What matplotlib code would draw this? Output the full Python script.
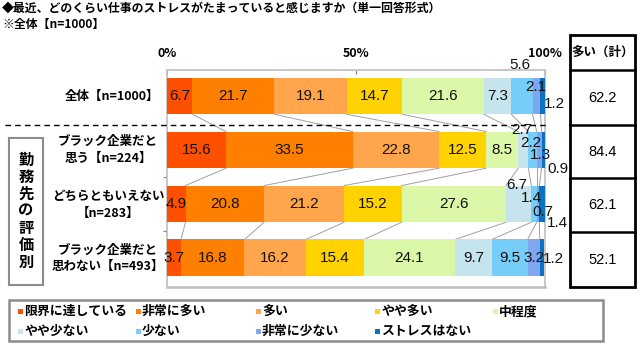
import matplotlib
matplotlib.use('Agg')
import matplotlib.pyplot as plt
from matplotlib.patches import Rectangle
from matplotlib.lines import Line2D
import numpy as np

JP = ['Noto Sans CJK JP', 'DejaVu Sans']
NUM = ['Liberation Sans Narrow', 'Liberation Sans', 'DejaVu Sans']
plt.rcParams['font.family'] = JP

# ---------------- data ----------------
title = '◆最近、どのくらい仕事のストレスがたまっていると感じますか（単一回答形式）'
subtitle = '※全体【n=1000】'
categories = ['全体【n=1000】',
              'ブラック企業だと\n思う【n=224】',
              'どちらともいえない\n【n=283】',
              'ブラック企業だと\n思わない【n=493】']
series_names = ['限界に達している', '非常に多い', '多い', 'やや多い', '中程度',
                'やや少ない', '少ない', '非常に少ない', 'ストレスはない']
v_all      = [6.7, 21.7, 19.1, 14.7, 21.6, 7.3, 5.6, 2.1, 1.2]
v_black    = [15.6, 33.5, 22.8, 12.5, 8.5, 2.7, 2.2, 1.3, 0.9]
v_neutral  = [4.9, 20.8, 21.2, 15.2, 27.6, 6.7, 1.4, 0.7, 1.4]
v_notblack = [3.7, 16.8, 16.2, 15.4, 24.1, 9.7, 9.5, 3.2, 1.2]
total_header = '多い（計）'
total_many = [62.2, 84.4, 62.1, 52.1]
group_label = '勤務先の評価別'
x_ticks = [0, 50, 100]
x_tick_labels = ['0%', '50%', '100%']

colors = ['#FF5000', '#FF8000', '#FFA64D', '#FFD200', '#DAF8A8',
          '#C6E4EE', '#76CDF8', '#80A6F2', '#0A72C2']

# label offsets (dx in %, dy in rows) for small segments: (row, seg)
label_offsets = {
    (0, 6): (-0.5, -0.57), (0, 7): (-0.1, -0.17), (0, 8): (3.2, 0.15),
    (1, 5): (-0.5, -0.37), (1, 6): (-0.4, -0.13), (1, 7): (0.4, 0.09), (1, 8): (3.9, 0.35),
    (2, 5): (-0.5, -0.35), (2, 6): (-0.8, -0.11), (2, 7): (1.3, 0.15), (2, 8): (4.2, 0.35),
    (3, 8): (2.9, 0.02),
}

rows = [v_all, v_black, v_neutral, v_notblack]

W, H = 640, 356
fig = plt.figure(figsize=(W / 100, H / 100), dpi=100)


def fx(px):
    return px / W


def fy(py):
    return 1 - py / H


# ---------------- main axes ----------------
ax = fig.add_axes([fx(167), fy(287), (378) / W, (287 - 70) / H])
ax.set_xlim(0, 100)
ax.set_ylim(3.54, -0.48)
bh = 0.68

for i, vals in enumerate(rows):
    left = 0.0
    for k, v in enumerate(vals):
        ax.barh(i, v, left=left, height=bh, color=colors[k], edgecolor='none', zorder=3)
        cx = left + v / 2
        dx, dy = label_offsets.get((i, k), (0, 0))
        ax.text(cx + dx, i + dy, f'{v:.1f}', ha='center', va='center',
                fontsize=11, family=NUM, color='#111111', zorder=5, clip_on=False)
        left += v

# connector lines
cums = [np.cumsum(r) for r in rows]
for i in range(len(rows) - 1):
    for k in range(len(series_names) - 1):
        ax.plot([cums[i][k], cums[i + 1][k]], [i + bh / 2, i + 1 - bh / 2],
                color='#A0A0A0', lw=0.7, zorder=2)

for s in ax.spines.values():
    s.set_color('#BFBFBF')
    s.set_linewidth(1.2)
ax.spines['bottom'].set_linewidth(1.8)
ax.xaxis.tick_top()
ax.set_xticks(x_ticks)
ax.set_xticklabels(x_tick_labels, fontsize=9, fontweight='bold')
ax.tick_params(axis='x', direction='in', length=3, color='#808080', pad=7)
ax.set_yticks([1.5, 2.5])
ax.set_yticklabels([])
ax.tick_params(axis='y', direction='out', length=3, color='#808080')

# dashed separator
fig.add_artist(Line2D([fx(5), fx(548)], [fy(125), fy(125)], color='black',
                      lw=1.0, ls=(0, (4, 3))))

# ---------------- titles ----------------
fig.text(fx(2), fy(8), title, fontsize=8.6, fontweight='bold', va='center', ha='left')
fig.text(fx(2), fy(24), subtitle, fontsize=8.6, fontweight='bold', va='center', ha='left')

# ---------------- category labels ----------------
row_px = [96, 150, 205, 258.5]
fig.text(fx(159), fy(row_px[0]), categories[0], ha='right', va='center',
         fontsize=9, fontweight='bold')
for i in range(1, 4):
    fig.text(fx(108), fy(row_px[i]), categories[i], ha='center', va='center',
             multialignment='center', fontsize=9, fontweight='bold', linespacing=1.35)

# group label box
fig.add_artist(Rectangle((fx(9), fy(285)), (43 - 9) / W, (285 - 138) / H,
                         fill=False, edgecolor='#8C8C8C', lw=1.5))
fig.text(fx(26), fy(211), '\n'.join(group_label), ha='center', va='center',
         fontsize=11, fontweight='bold', linespacing=1.08)

# ---------------- right total box ----------------
bx0, bx1 = 570, 635
edges = [35, 70, 125, 178, 232, 287]
fig.add_artist(Rectangle((fx(bx0), fy(edges[-1])), (bx1 - bx0) / W,
                         (edges[-1] - edges[0]) / H, fill=False,
                         edgecolor='black', lw=2))
for e in edges[1:-1]:
    fig.add_artist(Line2D([fx(bx0), fx(bx1)], [fy(e), fy(e)], color='black', lw=1.8))
fig.text(fx((bx0 + bx1) / 2), fy((edges[0] + edges[1]) / 2), total_header,
         ha='center', va='center', fontsize=9, fontweight='bold')
for i, t in enumerate(total_many):
    fig.text(fx((bx0 + bx1) / 2), fy((edges[i + 1] + edges[i + 2]) / 2), f'{t:.1f}',
             ha='center', va='center', fontsize=10.5, family=['Liberation Sans', 'DejaVu Sans'])

# ---------------- legend ----------------
fig.add_artist(Rectangle((fx(9), fy(341)), (603 - 9) / W, (341 - 300) / H,
                         fill=False, edgecolor='#8C8C8C', lw=1.8))
col_px = [20, 138, 258, 377, 495]
row_lp = [311, 331]
for k, name in enumerate(series_names):
    r, c = divmod(k, 5)
    x, y = col_px[c], row_lp[r]
    fig.add_artist(Rectangle((fx(x - 2.5), fy(y + 2.5)), 5 / W, 5 / H,
                             facecolor=colors[k], edgecolor='none'))
    fig.text(fx(x + 4), fy(y), name, ha='left', va='center', fontsize=9.3,
             fontweight='bold')

fig.savefig('out.png', dpi=100)
